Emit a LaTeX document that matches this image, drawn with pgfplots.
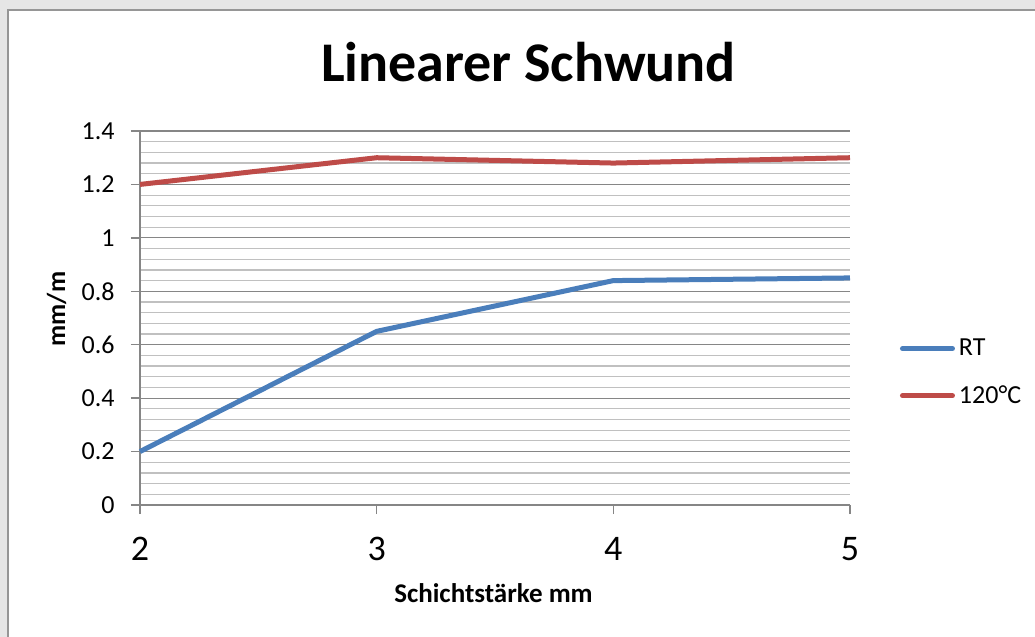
\documentclass[border=0pt]{standalone}
\usepackage{fontspec}
\setmainfont{Carlito}
\usepackage{pgfplots}
\pgfplotsset{compat=1.18}
\definecolor{bggray}{RGB}{230,230,230}
\definecolor{bordergray}{RGB}{150,150,150}
\definecolor{majgrid}{RGB}{134,134,134}
\definecolor{mingrid}{RGB}{192,192,192}
\definecolor{rtblue}{RGB}{74,126,187}
\definecolor{hotred}{RGB}{190,75,72}
\begin{document}
\begin{tikzpicture}
\useasboundingbox (0,0) rectangle (517.5pt,-318.5pt);
\fill[bggray] (0,0) rectangle (517.5pt,-318.5pt);
\fill[white] (4pt,-5pt) rectangle (517.5pt,-318.5pt);
\draw[bordergray,line width=0.8pt] (3.9pt,-318.5pt) -- (3.9pt,-4.9pt) -- (517.5pt,-4.9pt);
\node[anchor=base,font=\bfseries\fontsize{28}{33}\selectfont] at (264.25pt,-41pt) {Linearer Schwund};
\node[anchor=base,font=\bfseries\fontsize{13.5}{16}\selectfont] at (246.75pt,-301pt) {Schichtstärke mm};
\node[anchor=base,rotate=90,font=\bfseries\fontsize{13}{16}\selectfont] at (32.5pt,-154.5pt) {mm/m};
\begin{axis}[
  at={(70pt,-252.5pt)}, anchor=south west,
  scale only axis, width=355pt, height=187pt,
  xmin=2, xmax=5, ymin=0, ymax=1.4,
  xtick={2,3,4,5},
  ytick={0,0.2,0.4,0.6,0.8,1,1.2,1.4},
  yticklabels={0,0.2,0.4,0.6,0.8,1,1.2,1.4},
  xticklabels={2,3,4,5},
  minor y tick num=4,
  ymajorgrids, yminorgrids,
  major grid style={majgrid,line width=0.6pt},
  minor grid style={mingrid,line width=0.6pt},
  axis x line*=bottom, axis y line*=left,
  axis line style={majgrid,line width=0.7pt,-},
  tick style={majgrid,line width=0.7pt},
  tick align=outside,
  major tick length=4.5pt,
  minor tick length=0pt,
  yticklabel style={font=\fontsize{13}{15}\selectfont,inner sep=0pt,anchor=east,xshift=-8pt},
  xticklabel style={font=\fontsize{18}{21}\selectfont,inner sep=0pt,anchor=north,yshift=-11.5pt},
  legend style={at={(1.0704,0.3543)},anchor=west,draw=none,fill=none,inner sep=0pt,outer sep=0pt,
    font=\fontsize{13}{15}\selectfont,row sep=13.5pt,
    nodes={inner sep=0pt}},
  legend cell align=left,
  legend image code/.code={\draw[#1,line cap=round] (0pt,0pt) -- (25pt,0pt); \path (27pt,0pt);},
  clip=false,
]
\addplot[rtblue,line width=2.5pt,line join=round] coordinates {(2,0.2) (3,0.65) (4,0.84) (5,0.85)};
\addlegendentry{RT}
\addplot[hotred,line width=2.5pt,line join=round] coordinates {(2,1.2) (3,1.3) (4,1.28) (5,1.3)};
\addlegendentry{120°C}
\end{axis}
\end{tikzpicture}
\end{document}
